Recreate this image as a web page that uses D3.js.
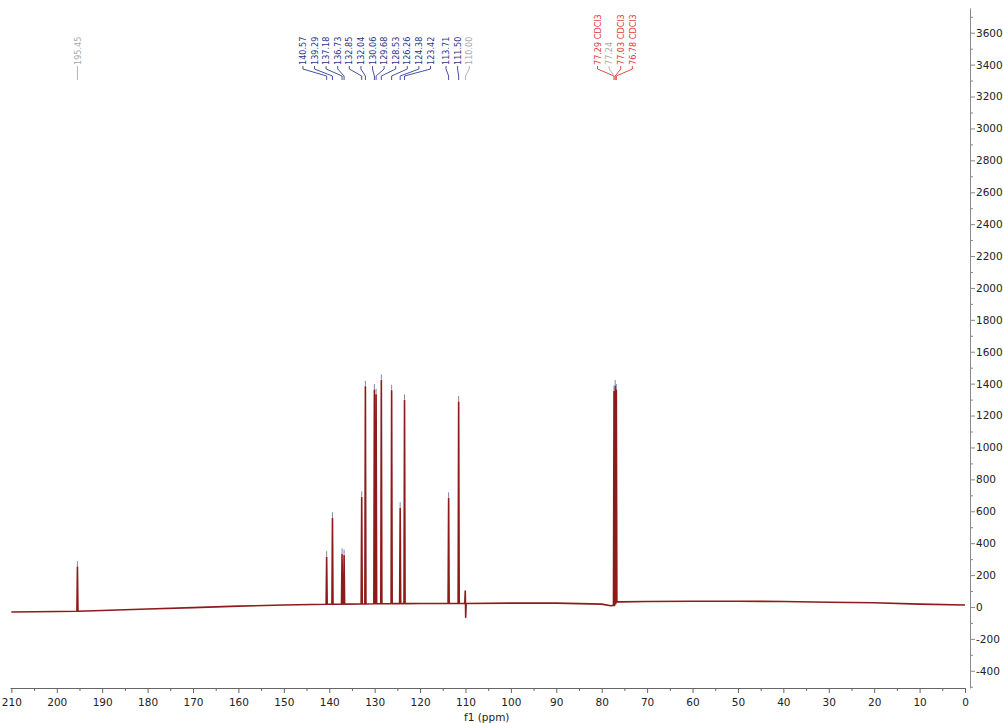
<!DOCTYPE html>
<html>
<head>
<meta charset="utf-8">
<script src="https://cdn.jsdelivr.net/npm/d3@7"></script>
<style>
  html, body { margin: 0; padding: 0; background: #fff; }
  svg { display: block; }
</style>
</head>
<body>
<svg id="chart" width="1003" height="723"></svg>
<script>
// ---------------- data ----------------
// baseline of the spectrum (ppm, intensity)
const baselinePpm = [210, 200, 190, 180, 170, 160, 150, 140, 130, 120, 110, 100, 90, 80, 78, 76, 70, 60, 50, 40, 30, 20, 10, 0];
const baselineVal = [-32, -28, -22, -13, -4, 5, 12, 17, 20, 22, 23, 24, 24, 18, 8, 32, 34, 36, 36, 34, 30, 26, 18, 12];

// peaks: position, top intensity, intensity at the foot
const peakPpm  = [195.45, 140.57, 139.29, 137.18, 136.73, 132.85, 132.04, 130.06, 129.68, 128.53, 126.26, 124.38, 123.42, 113.71, 111.50, 77.29, 77.03, 76.78];
const peakTop  = [250, 312, 556, 330, 322, 688, 1380, 1360, 1330, 1420, 1355, 619, 1295, 681, 1285, 1350, 1385, 1360];
const peakBase = [-27, 17, 17, 18, 18, 19, 19, 20, 20, 20, 21, 21, 21, 22, 22, 10, 20, 32];

// small dispersive artefact at 110.00 ppm
const artefactPpm = [110.15, 110.05, 109.95, 109.85];
const artefactVal = [22, 100, -65, 22];

// peak labels
const labelText  = ["195.45", "140.57", "139.29", "137.18", "136.73", "132.85", "132.04", "130.06", "129.68", "128.53", "126.26", "124.38", "123.42", "113.71", "111.50", "110.00", "77.29 CDCl3", "77.24", "77.03 CDCl3", "76.78 CDCl3"];
const labelPpm   = [195.45, 140.57, 139.29, 137.18, 136.73, 132.85, 132.04, 130.06, 129.68, 128.53, 126.26, 124.38, 123.42, 113.71, 111.50, 110.00, 77.29, 77.24, 77.03, 76.78];
const labelKind  = ["gray", "blue", "blue", "blue", "blue", "blue", "blue", "blue", "blue", "blue", "blue", "blue", "blue", "blue", "blue", "gray", "red", "gray", "red", "red"];

// axis ticks
const xMajorTicks = [210, 200, 190, 180, 170, 160, 150, 140, 130, 120, 110, 100, 90, 80, 70, 60, 50, 40, 30, 20, 10, 0];
const xMinorTicks = [205, 195, 185, 175, 165, 155, 145, 135, 125, 115, 105, 95, 85, 75, 65, 55, 45, 35, 25, 15, 5];
const yMajorTicks = [-400, -200, 0, 200, 400, 600, 800, 1000, 1200, 1400, 1600, 1800, 2000, 2200, 2400, 2600, 2800, 3000, 3200, 3400, 3600];
const yMinorTicks = [-500, -300, -100, 100, 300, 500, 700, 900, 1100, 1300, 1500, 1700, 1900, 2100, 2300, 2500, 2700, 2900, 3100, 3300, 3500, 3700];
const xTitle = "f1 (ppm)";

// ---------------- drawing ----------------
const svg = d3.select("#chart");
const x = d3.scaleLinear().domain([210.3, 0]).range([10, 965]);
const y = d3.scaleLinear().domain([-508, 3755]).range([688, 8]);

const colors = { blue: "#2b3488", gray: "#a8a8a8", red: "#e23a36" };
const lineColors = { blue: "#4652a0", gray: "#b4b4b4", red: "#e44a44" };

// assemble spectrum points
const pts = [];
baselinePpm.forEach((p, i) => pts.push([p, baselineVal[i]]));
const hw = 0.12;
peakPpm.forEach((p, i) => {
  pts.push([p + hw, peakBase[i]]);
  pts.push([p, peakTop[i]]);
  pts.push([p - hw, peakBase[i]]);
});
artefactPpm.forEach((p, i) => pts.push([p, artefactVal[i]]));
pts.sort((a, b) => b[0] - a[0]);

const line = d3.line().x(d => x(d[0])).y(d => y(d[1]));
svg.append("path")
  .datum(pts)
  .attr("d", line)
  .attr("fill", "none")
  .attr("stroke", "#8e1b1b")
  .attr("stroke-width", 1.6)
  .attr("stroke-linejoin", "round");

// small peak-pick markers above the peak tops
svg.append("g").selectAll("line")
  .data(peakPpm.map((p, i) => [p, peakTop[i]]))
  .join("line")
  .attr("x1", d => x(d[0])).attr("x2", d => x(d[0]))
  .attr("y1", d => y(d[1]) - 1).attr("y2", d => y(d[1]) - 6)
  .attr("stroke", "#7d86b0").attr("stroke-width", 1);

// label layout: evenly spaced clusters centred on their peaks
const gap = 11.6;
const peakX = labelPpm.map(p => x(p));
const order = d3.range(labelPpm.length).sort((a, b) => peakX[a] - peakX[b]);
let clusters = order.map(i => ({ idx: [i], center: peakX[i] }));
let changed = true;
while (changed) {
  changed = false;
  for (let k = 0; k < clusters.length - 1; k++) {
    const a = clusters[k], b = clusters[k + 1];
    const aEnd = a.center + (a.idx.length - 1) / 2 * gap;
    const bStart = b.center - (b.idx.length - 1) / 2 * gap;
    if (bStart - aEnd < gap) {
      const idx = a.idx.concat(b.idx);
      clusters.splice(k, 2, { idx, center: d3.mean(idx, i => peakX[i]) });
      changed = true;
      break;
    }
  }
}
const labelX = new Array(labelPpm.length);
clusters.forEach(c => {
  c.idx.forEach((i, j) => { labelX[i] = c.center + (j - (c.idx.length - 1) / 2) * gap; });
});

const textBottom = 65;
const lg = svg.append("g");
labelText.forEach((t, i) => {
  const lx = labelX[i], px = peakX[i];
  lg.append("path")
    .attr("d", `M${lx},${textBottom + 1}L${lx},${textBottom + 4}L${px},${textBottom + 11}L${px},${textBottom + 15}`)
    .attr("fill", "none")
    .attr("stroke", lineColors[labelKind[i]])
    .attr("stroke-width", 1);
  lg.append("text")
    .attr("transform", `translate(${lx},${textBottom}) rotate(-90)`)
    .attr("dy", "0.35em")
    .attr("text-anchor", "start")
    .attr("font-family", "'DejaVu Sans Condensed', 'DejaVu Sans', sans-serif")
    .attr("font-size", 9)
    .attr("fill", colors[labelKind[i]])
    .text(t);
});

// x axis
const xAxisG = svg.append("g").attr("transform", "translate(0,688)");
xAxisG.call(d3.axisBottom(x).tickValues(xMajorTicks).tickSize(5).tickSizeOuter(0).tickPadding(6).tickFormat(d => String(d)));
xAxisG.append("g").call(d3.axisBottom(x).tickValues(xMinorTicks).tickSize(3).tickFormat("")).select(".domain").remove();
xAxisG.selectAll("path.domain").attr("stroke", "#666");
xAxisG.selectAll(".tick line").attr("stroke", "#666");
xAxisG.selectAll("text")
  .attr("font-family", "'DejaVu Sans', sans-serif")
  .attr("font-size", 10.5)
  .attr("fill", "#222");
svg.append("text")
  .attr("x", 464).attr("y", 721)
  .attr("font-family", "'DejaVu Sans', sans-serif")
  .attr("font-size", 10.5)
  .attr("fill", "#222")
  .text(xTitle);

// y axis (right)
const yAxisG = svg.append("g").attr("transform", "translate(970,0)");
yAxisG.call(d3.axisRight(y).tickValues(yMajorTicks).tickSize(5).tickSizeOuter(0).tickPadding(1).tickFormat(d => String(d)));
yAxisG.append("g").call(d3.axisRight(y).tickValues(yMinorTicks).tickSize(3).tickFormat("")).select(".domain").remove();
yAxisG.selectAll("path.domain").attr("stroke", "#8a8a8a");
yAxisG.selectAll(".tick line").attr("stroke", "#8a8a8a");
yAxisG.selectAll("text")
  .attr("font-family", "'DejaVu Sans', sans-serif")
  .attr("font-size", 10.5)
  .attr("fill", "#222");
</script>
</body>
</html>
